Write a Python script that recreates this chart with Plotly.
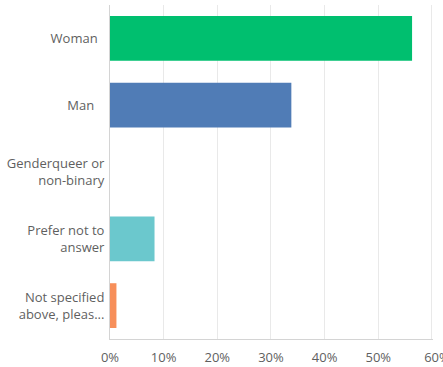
import plotly.graph_objects as go

# Survey responses by gender identity (share of respondents)
NBSP = "\u00a0"
categories = [
    "Woman" + NBSP * 2,
    "Man" + NBSP * 3,
    "Genderqueer or<br>non-binary",
    "Prefer not to<br>answer",
    "Not specified<br>above, pleas...",
]
shares = [0.563, 0.338, 0.0, 0.083, 0.012]
bar_colors = ["#00BF6F", "#507CB6", "#7D5BA6", "#6BC8CD", "#F78F5A"]

tick_vals = [0, 0.1, 0.2, 0.3, 0.4, 0.5, 0.6]
tick_text = ["0%", "10%", "20%", "30%", "40%", "50%", NBSP * 3 + "60%"]

fig = go.Figure(
    go.Bar(
        x=shares,
        y=categories,
        orientation="h",
        marker=dict(color=bar_colors, line=dict(width=0)),
        hoverinfo="x+y",
    )
)

fig.update_layout(
    width=443,
    height=367,
    margin=dict(l=110, r=10, t=5, b=28, autoexpand=False),
    paper_bgcolor="white",
    plot_bgcolor="white",
    bargap=0.33,
    showlegend=False,
    font=dict(family="Open Sans", size=13, color="#5f5f5f"),
)

fig.update_xaxes(
    range=[0, 0.602],
    tickvals=tick_vals,
    ticktext=tick_text,
    showgrid=True,
    gridcolor="#e9e9e9",
    gridwidth=1,
    zeroline=False,
    showline=True,
    linecolor="#d4d4d4",
    ticks="outside",
    ticklen=6,
    tickcolor="rgba(0,0,0,0)",
    tickfont=dict(size=13),
    ticklabeloverflow="allow",
    automargin=False,
    fixedrange=True,
)

fig.update_yaxes(
    categoryorder="array",
    categoryarray=categories,
    autorange="reversed",
    showgrid=False,
    zeroline=False,
    showline=True,
    linecolor="#d4d4d4",
    ticks="outside",
    ticklen=2,
    tickcolor="rgba(0,0,0,0)",
    tickfont=dict(size=13),
    automargin=False,
    fixedrange=True,
)

fig.write_html("out.html")
